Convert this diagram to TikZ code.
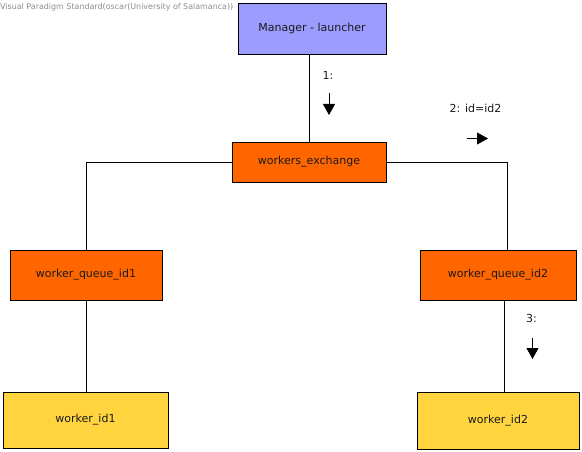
\documentclass[tikz,border=0pt]{standalone}
\usepackage{fontspec}
\setmainfont{DejaVu Sans}
\usetikzlibrary{arrows.meta}
\definecolor{mgrfill}{HTML}{9C9CFF}
\definecolor{orangefill}{HTML}{FF6600}
\definecolor{yellowfill}{HTML}{FFD43E}
\definecolor{txt}{HTML}{1A1A1A}
\definecolor{wm}{HTML}{8C8C8C}
\tikzset{
  box/.style={draw=black, line width=0.9pt, inner sep=0pt, text=txt, font=\fontsize{11}{13}\selectfont},
  conn/.style={draw=black, line width=0.8pt},
  msg/.style={text=txt, font=\fontsize{11}{13}\selectfont, inner sep=0pt},
  dirarrow/.style={line width=0.8pt, -{Triangle[width=12pt,length=11pt]}}
}
\begin{document}
\begin{tikzpicture}[x=1pt,y=-1pt]
\useasboundingbox (0,0) rectangle (582,452);
\node[text=wm, font=\fontsize{7.95}{9}\selectfont, anchor=west, inner sep=0pt] (wmark) at (0,7) {Visual Paradigm Standard(oscar(University of Salamanca))};
\node[box, fill=mgrfill, minimum width=148pt, minimum height=51pt] (mgr) at (312,28.5) {Manager - launcher};
\node[box, fill=orangefill, minimum width=154pt, minimum height=40pt] (exch) at (309,162) {workers\_exchange};
\node[box, fill=orangefill, minimum width=152pt, minimum height=50pt] (q1) at (86,275) {worker\_queue\_id1};
\node[box, fill=orangefill, minimum width=156pt, minimum height=50pt] (q2) at (498,275) {worker\_queue\_id2};
\node[box, fill=yellowfill, minimum width=165pt, minimum height=56pt] (w1) at (85.5,420) {worker\_id1};
\node[box, fill=yellowfill, minimum width=162pt, minimum height=57pt] (w2) at (498,420.5) {worker\_id2};
% connectors
\draw[conn] (exch.north) -- (exch.north |- mgr.south);
\draw[conn] (exch.west) -| (q1.north);
\coordinate (q2top) at ([xshift=9pt]q2.north);
\draw[conn] (exch.east) -| (q2top);
\draw[conn] (q1.south) -- (q1.south |- w1.north);
\coordinate (q2bot) at ([xshift=6.7pt]q2.south);
\draw[conn] (q2bot) -- (q2bot |- w2.north);
% message labels
\node[msg] (m1) at (328,75) {1:};
\coordinate (a1s) at (329,93);
\coordinate (a1e) at (329,115);
\draw[dirarrow] (a1s) -- (a1e);
\node[msg] (m2) at (475.5,108) {2: id=id2};
\coordinate (a2s) at (467,138.5);
\coordinate (a2e) at (488,138.5);
\draw[dirarrow] (a2s) -- (a2e);
\node[msg] (m3) at (531.5,318.5) {3:};
\coordinate (a3s) at (532.5,338);
\coordinate (a3e) at (532.5,359);
\draw[dirarrow] (a3s) -- (a3e);
\end{tikzpicture}
\end{document}
